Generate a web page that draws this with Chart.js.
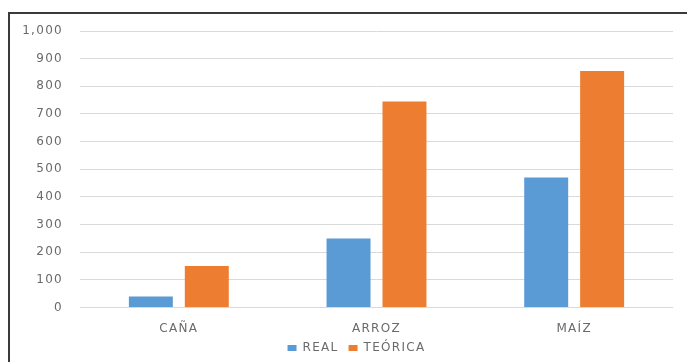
<!DOCTYPE html>
<html lang="es">
<head>
<meta charset="utf-8">
<title>Real vs teórica</title>
<script src="https://cdn.jsdelivr.net/npm/chart.js@4.4.1/dist/chart.umd.min.js"></script>
<style>
  html, body { margin: 0; padding: 0; background: #fff; }
  .wrap { position: relative; width: 687px; height: 362px; }
  .frame {
    position: absolute; left: 8px; top: 12px; right: -4px; bottom: -4px;
    border: 2px solid #3a3a3a; pointer-events: none;
  }
  canvas { position: absolute; left: 0; top: 0; }
</style>
</head>
<body>
<div class="wrap">
  <canvas id="chart" width="687" height="362"></canvas>
  <div class="frame"></div>
</div>
<script>
const cultivos = ['CAÑA', 'ARROZ', 'MAÍZ'];
const real = [40, 250, 470];
const teorica = [150, 745, 855];
const yMax = 1000;
const yStep = 100;

const gris = '#6a6a6a';
Chart.defaults.font.family = '"DejaVu Sans", sans-serif';
Chart.defaults.font.size = 12;
Chart.defaults.color = gris;

// letras algo espaciadas, como en la hoja original
const espaciado = {
  id: 'espaciado',
  beforeUpdate(chart) { chart.ctx.letterSpacing = '1.3px'; },
  beforeDraw(chart) { chart.ctx.letterSpacing = '1.3px'; }
};

// la leyenda queda pegada a las etiquetas y algo a la derecha del centro
const leyendaDesplazada = {
  id: 'leyendaDesplazada',
  afterLayout(chart) {
    const lg = chart.legend;
    lg.left += 20;
    lg.right += 20;
    lg.top -= 18;
    lg.bottom -= 18;
  }
};

new Chart(document.getElementById('chart'), {
  type: 'bar',
  data: {
    labels: cultivos,
    datasets: [
      { label: 'REAL', data: real, backgroundColor: '#5b9bd5' },
      { label: 'TEÓRICA', data: teorica, backgroundColor: '#ed7d31' }
    ]
  },
  plugins: [espaciado, leyendaDesplazada],
  options: {
    responsive: false,
    animation: false,
    categoryPercentage: 0.566,
    barPercentage: 0.786,
    layout: { padding: { top: 31, right: 14, left: 0, bottom: -20 } },
    plugins: {
      tooltip: { enabled: false },
      legend: {
        position: 'bottom',
        labels: { boxWidth: 9, boxHeight: 6, padding: 10, color: gris }
      }
    },
    scales: {
      x: {
        grid: { display: false, drawTicks: false },
        border: { display: false },
        ticks: { padding: 14, color: gris }
      },
      y: {
        min: 0,
        max: yMax,
        afterFit: (scale) => { scale.width = 80; },
        grid: { color: '#d9d9d9', drawTicks: false },
        border: { display: false },
        ticks: { stepSize: yStep, padding: 17, color: gris }
      }
    }
  }
});
</script>
</body>
</html>
